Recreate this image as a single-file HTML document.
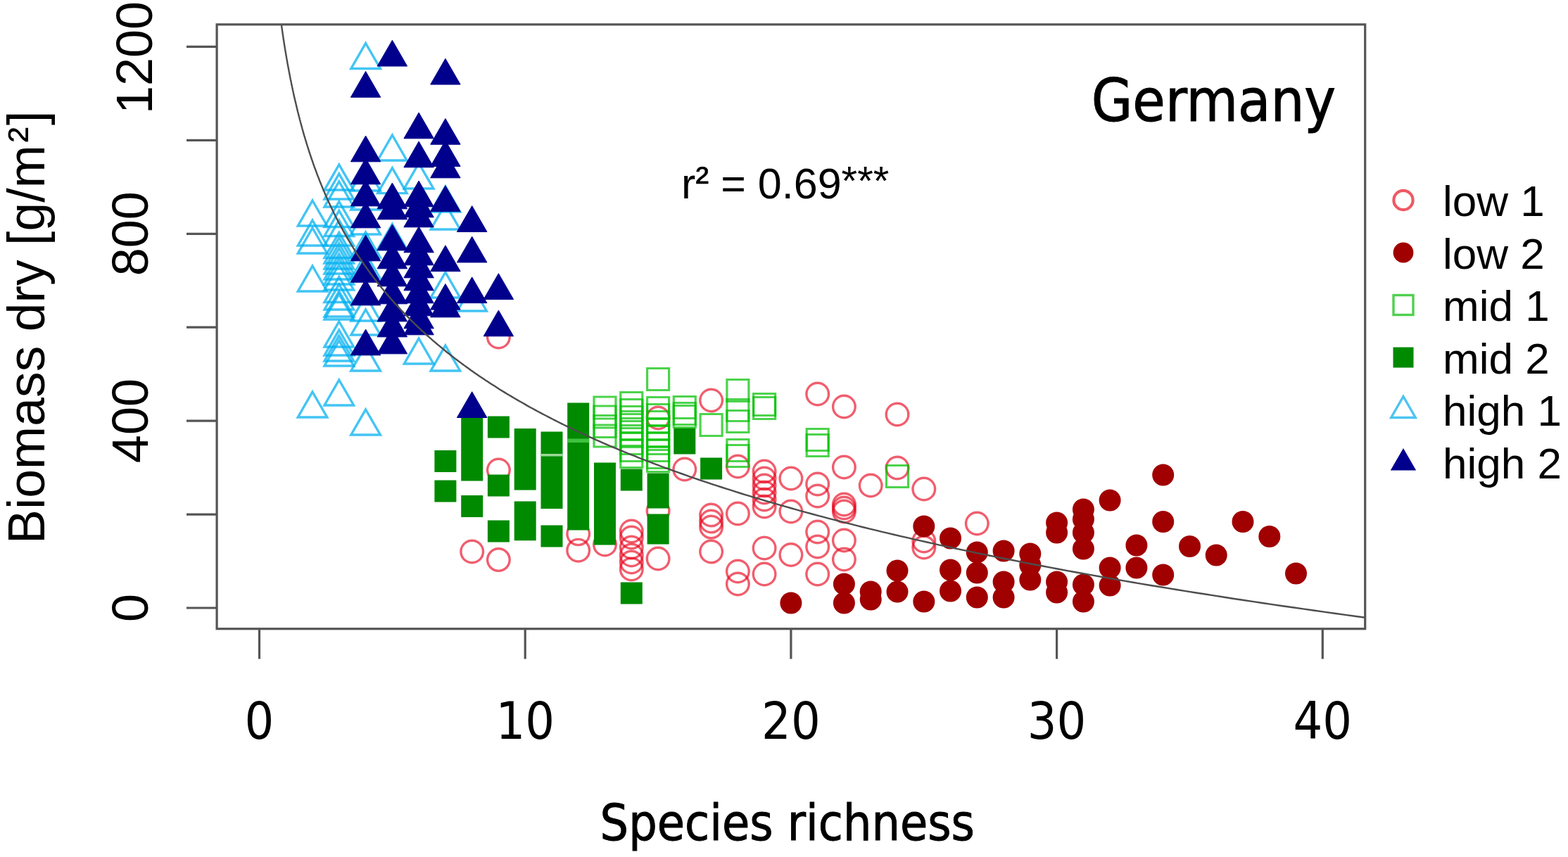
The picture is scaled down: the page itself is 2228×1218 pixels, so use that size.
<!DOCTYPE html><html><head><meta charset="utf-8"><style>html,body{margin:0;padding:0;background:#fff;}svg{display:block}text{font-family:"Liberation Sans",Arial,sans-serif;fill:#000}</style></head><body>
<svg width="2228" height="1218" viewBox="0 0 2228 1218">
<rect width="2228" height="1218" fill="#fff"/>
<defs><clipPath id="pc"><rect x="308" y="35" width="1632" height="859"/></clipPath></defs>
<g clip-path="url(#pc)"><g fill="none" stroke="#e8001a" stroke-opacity="0.63" stroke-width="3.4"><circle cx="670.7" cy="784" r="15.8"/><circle cx="708.4" cy="479" r="15.8"/><circle cx="708.4" cy="668" r="15.8"/><circle cx="708.4" cy="795.6" r="15.8"/><circle cx="821.7" cy="758.8" r="15.8"/><circle cx="821.7" cy="782.2" r="15.8"/><circle cx="859.5" cy="774" r="15.8"/><circle cx="897.3" cy="755" r="15.8"/><circle cx="897.3" cy="764" r="15.8"/><circle cx="897.3" cy="778" r="15.8"/><circle cx="897.3" cy="789" r="15.8"/><circle cx="897.3" cy="799" r="15.8"/><circle cx="897.3" cy="809" r="15.8"/><circle cx="935.1" cy="594" r="15.8"/><circle cx="935.1" cy="726" r="15.8"/><circle cx="935.1" cy="794" r="15.8"/><circle cx="972.8" cy="667" r="15.8"/><circle cx="1010.6" cy="569" r="15.8"/><circle cx="1010.6" cy="732" r="15.8"/><circle cx="1010.6" cy="741" r="15.8"/><circle cx="1010.6" cy="749" r="15.8"/><circle cx="1010.6" cy="784" r="15.8"/><circle cx="1048.4" cy="663" r="15.8"/><circle cx="1048.4" cy="730" r="15.8"/><circle cx="1048.4" cy="812" r="15.8"/><circle cx="1048.4" cy="830" r="15.8"/><circle cx="1086.1" cy="670" r="15.8"/><circle cx="1086.1" cy="680" r="15.8"/><circle cx="1086.1" cy="690" r="15.8"/><circle cx="1086.1" cy="700" r="15.8"/><circle cx="1086.1" cy="710" r="15.8"/><circle cx="1086.1" cy="720" r="15.8"/><circle cx="1086.1" cy="779" r="15.8"/><circle cx="1086.1" cy="816" r="15.8"/><circle cx="1123.9" cy="680" r="15.8"/><circle cx="1123.9" cy="727" r="15.8"/><circle cx="1123.9" cy="788.5" r="15.8"/><circle cx="1161.7" cy="560" r="15.8"/><circle cx="1161.7" cy="688" r="15.8"/><circle cx="1161.7" cy="705" r="15.8"/><circle cx="1161.7" cy="756" r="15.8"/><circle cx="1161.7" cy="777" r="15.8"/><circle cx="1161.7" cy="816" r="15.8"/><circle cx="1199.4" cy="578" r="15.8"/><circle cx="1199.4" cy="664" r="15.8"/><circle cx="1199.4" cy="717" r="15.8"/><circle cx="1199.4" cy="722" r="15.8"/><circle cx="1199.4" cy="727" r="15.8"/><circle cx="1199.4" cy="768" r="15.8"/><circle cx="1199.4" cy="795" r="15.8"/><circle cx="1237.2" cy="690" r="15.8"/><circle cx="1275" cy="589" r="15.8"/><circle cx="1275" cy="665" r="15.8"/><circle cx="1312.8" cy="695" r="15.8"/><circle cx="1312.8" cy="769" r="15.8"/><circle cx="1312.8" cy="778" r="15.8"/><circle cx="1388.3" cy="744" r="15.8"/></g><path fill="#008a00" d="M617.4 640.1h31v31h-31ZM617.4 682.5h31v31h-31ZM655.2 592h31v31h-31ZM655.2 606.5h31v31h-31ZM655.2 621.5h31v31h-31ZM655.2 637.5h31v31h-31ZM655.2 652.5h31v31h-31ZM655.2 703.9h31v31h-31ZM692.9 591.5h31v31h-31ZM692.9 674.5h31v31h-31ZM692.9 739.5h31v31h-31ZM730.7 609h31v31h-31ZM730.7 624.5h31v31h-31ZM730.7 639.5h31v31h-31ZM730.7 652.5h31v31h-31ZM730.7 665.5h31v31h-31ZM730.7 712.5h31v31h-31ZM730.7 724.5h31v31h-31ZM730.7 737.2h31v31h-31ZM768.5 613.5h31v31h-31ZM768.5 629.5h31v31h-31ZM768.5 645.5h31v31h-31ZM768.5 660.5h31v31h-31ZM768.5 676.5h31v31h-31ZM768.5 692h31v31h-31ZM768.5 746.5h31v31h-31ZM806.2 572.5h31v31h-31ZM806.2 587.5h31v31h-31ZM806.2 602.5h31v31h-31ZM806.2 617.5h31v31h-31ZM806.2 632.5h31v31h-31ZM806.2 647.5h31v31h-31ZM806.2 662.5h31v31h-31ZM806.2 677.5h31v31h-31ZM806.2 692.5h31v31h-31ZM806.2 707.5h31v31h-31ZM806.2 722.5h31v31h-31ZM844 657.5h31v31h-31ZM844 672.5h31v31h-31ZM844 687.5h31v31h-31ZM844 702.5h31v31h-31ZM844 717.5h31v31h-31ZM844 732.5h31v31h-31ZM844 743.5h31v31h-31ZM881.8 666.5h31v31h-31ZM881.8 827.5h31v31h-31ZM919.6 672.5h31v31h-31ZM919.6 691.5h31v31h-31ZM919.6 730.5h31v31h-31ZM919.6 742.5h31v31h-31ZM957.3 608.5h31v31h-31ZM957.3 614.5h31v31h-31ZM995.1 650.5h31v31h-31Z"/><rect x="806.2" y="623.5" width="31" height="5.5" fill="#4fd04f" opacity="0.8"/><rect x="768.5" y="645" width="31" height="3.5" fill="#9ad89a"/><g fill="none" stroke="#00c000" stroke-opacity="0.7" stroke-width="3.2"><path d="M844 564h31v31h-31Z"/><path d="M844 577h31v31h-31Z"/><path d="M844 590.5h31v31h-31Z"/><path d="M844 604h31v31h-31Z"/><path d="M881.8 557.5h31v31h-31Z"/><path d="M881.8 567.5h31v31h-31Z"/><path d="M881.8 577.5h31v31h-31Z"/><path d="M881.8 584.5h31v31h-31Z"/><path d="M881.8 594.5h31v31h-31Z"/><path d="M881.8 604.5h31v31h-31Z"/><path d="M881.8 614.5h31v31h-31Z"/><path d="M881.8 624.5h31v31h-31Z"/><path d="M881.8 633.5h31v31h-31Z"/><path d="M919.6 523.5h31v31h-31Z"/><path d="M919.6 564.5h31v31h-31Z"/><path d="M919.6 574.5h31v31h-31Z"/><path d="M919.6 584.5h31v31h-31Z"/><path d="M919.6 594.5h31v31h-31Z"/><path d="M919.6 604.5h31v31h-31Z"/><path d="M919.6 614.5h31v31h-31Z"/><path d="M919.6 624.5h31v31h-31Z"/><path d="M919.6 634.5h31v31h-31Z"/><path d="M919.6 639.5h31v31h-31Z"/><path d="M957.3 563.5h31v31h-31Z"/><path d="M957.3 572.5h31v31h-31Z"/><path d="M957.3 576.5h31v31h-31Z"/><path d="M995.1 588.5h31v31h-31Z"/><path d="M1032.9 539.5h31v31h-31Z"/><path d="M1032.9 567.5h31v31h-31Z"/><path d="M1032.9 583.5h31v31h-31Z"/><path d="M1032.9 624.5h31v31h-31Z"/><path d="M1032.9 632.5h31v31h-31Z"/><path d="M1070.6 559.5h31v31h-31Z"/><path d="M1070.6 564.5h31v31h-31Z"/><path d="M1146.2 609.5h31v31h-31Z"/><path d="M1146.2 617.5h31v31h-31Z"/><path d="M1259.5 661.5h31v31h-31Z"/></g><g fill="none" stroke="#00b0f0" stroke-opacity="0.74" stroke-width="3.4"><path d="M444 285L464.8 321L423.3 321Z"/><path d="M444 313L464.8 349L423.3 349Z"/><path d="M444 324L464.8 360L423.3 360Z"/><path d="M444 378L464.8 414L423.3 414Z"/><path d="M444 557L464.8 593L423.3 593Z"/><path d="M481.8 234L502.6 270L461 270Z"/><path d="M481.8 247L502.6 283L461 283Z"/><path d="M481.8 258L502.6 294L461 294Z"/><path d="M481.8 286.5L502.6 322.5L461 322.5Z"/><path d="M481.8 299.5L502.6 335.5L461 335.5Z"/><path d="M481.8 313L502.6 349L461 349Z"/><path d="M481.8 330.5L502.6 366.5L461 366.5Z"/><path d="M481.8 338L502.6 374L461 374Z"/><path d="M481.8 346L502.6 382L461 382Z"/><path d="M481.8 353L502.6 389L461 389Z"/><path d="M481.8 361L502.6 397L461 397Z"/><path d="M481.8 368L502.6 404L461 404Z"/><path d="M481.8 376L502.6 412L461 412Z"/><path d="M481.8 393.5L502.6 429.5L461 429.5Z"/><path d="M481.8 404L502.6 440L461 440Z"/><path d="M481.8 414L502.6 450L461 450Z"/><path d="M481.8 418L502.6 454L461 454Z"/><path d="M481.8 457L502.6 493L461 493Z"/><path d="M481.8 469L502.6 505L461 505Z"/><path d="M481.8 477L502.6 513L461 513Z"/><path d="M481.8 484L502.6 520L461 520Z"/><path d="M481.8 540L502.6 576L461 576Z"/><path d="M519.6 61.5L540.4 97.5L498.8 97.5Z"/><path d="M519.6 235L540.4 271L498.8 271Z"/><path d="M519.6 262L540.4 298L498.8 298Z"/><path d="M519.6 297L540.4 333L498.8 333Z"/><path d="M519.6 330L540.4 366L498.8 366Z"/><path d="M519.6 360L540.4 396L498.8 396Z"/><path d="M519.6 420L540.4 456L498.8 456Z"/><path d="M519.6 440L540.4 476L498.8 476Z"/><path d="M519.6 491L540.4 527L498.8 527Z"/><path d="M519.6 582L540.4 618L498.8 618Z"/><path d="M557.4 192L578.1 228L536.6 228Z"/><path d="M557.4 238.6L578.1 274.6L536.6 274.6Z"/><path d="M557.4 318.5L578.1 354.5L536.6 354.5Z"/><path d="M595.1 232L615.9 268L574.3 268Z"/><path d="M595.1 481L615.9 517L574.3 517Z"/><path d="M632.9 265L653.7 301L612.1 301Z"/><path d="M632.9 290L653.7 326L612.1 326Z"/><path d="M632.9 387L653.7 423L612.1 423Z"/><path d="M632.9 491L653.7 527L612.1 527Z"/><path d="M670.7 406L691.4 442L649.9 442Z"/></g><path fill="#00008c" stroke="#00008c" stroke-width="1" d="M519.6 101.4L540.8 138.2L498.4 138.2ZM519.6 193L540.8 229.8L498.4 229.8ZM519.6 225L540.8 261.8L498.4 261.8ZM519.6 256L540.8 292.8L498.4 292.8ZM519.6 287L540.8 323.8L498.4 323.8ZM519.6 334L540.8 370.8L498.4 370.8ZM519.6 364.5L540.8 401.2L498.4 401.2ZM519.6 397L540.8 433.8L498.4 433.8ZM519.6 468L540.8 504.8L498.4 504.8ZM557.4 57.2L578.6 94L536.1 94ZM557.4 260L578.6 296.8L536.1 296.8ZM557.4 275L578.6 311.8L536.1 311.8ZM557.4 319L578.6 355.8L536.1 355.8ZM557.4 345L578.6 381.8L536.1 381.8ZM557.4 370L578.6 406.8L536.1 406.8ZM557.4 395L578.6 431.8L536.1 431.8ZM557.4 420L578.6 456.8L536.1 456.8ZM557.4 442L578.6 478.8L536.1 478.8ZM557.4 466L578.6 502.8L536.1 502.8ZM595.1 160L616.3 196.8L573.9 196.8ZM595.1 201L616.3 237.8L573.9 237.8ZM595.1 257L616.3 293.8L573.9 293.8ZM595.1 272L616.3 308.8L573.9 308.8ZM595.1 286L616.3 322.8L573.9 322.8ZM595.1 322L616.3 358.8L573.9 358.8ZM595.1 340L616.3 376.8L573.9 376.8ZM595.1 358L616.3 394.8L573.9 394.8ZM595.1 376L616.3 412.8L573.9 412.8ZM595.1 394L616.3 430.8L573.9 430.8ZM595.1 412L616.3 448.8L573.9 448.8ZM595.1 430L616.3 466.8L573.9 466.8ZM595.1 439L616.3 475.8L573.9 475.8ZM632.9 83.3L654.1 120L611.7 120ZM632.9 168.5L654.1 205.2L611.7 205.2ZM632.9 199.7L654.1 236.4L611.7 236.4ZM632.9 216L654.1 252.8L611.7 252.8ZM632.9 263.8L654.1 300.6L611.7 300.6ZM632.9 348.8L654.1 385.6L611.7 385.6ZM632.9 403.4L654.1 440.1L611.7 440.1ZM632.9 414L654.1 450.8L611.7 450.8ZM670.7 292.6L691.9 329.4L649.4 329.4ZM670.7 336.2L691.9 372.9L649.4 372.9ZM670.7 393.8L691.9 430.6L649.4 430.6ZM670.7 556.7L691.9 593.5L649.4 593.5ZM708.4 388.7L729.6 425.4L687.2 425.4ZM708.4 441L729.6 477.8L687.2 477.8Z"/><g fill="#a00000"><circle cx="1123.9" cy="857" r="15.5"/><circle cx="1199.4" cy="830" r="15.5"/><circle cx="1199.4" cy="857" r="15.5"/><circle cx="1237.2" cy="841" r="15.5"/><circle cx="1237.2" cy="852" r="15.5"/><circle cx="1275" cy="811" r="15.5"/><circle cx="1275" cy="841" r="15.5"/><circle cx="1312.8" cy="748" r="15.5"/><circle cx="1312.8" cy="855" r="15.5"/><circle cx="1350.5" cy="765" r="15.5"/><circle cx="1350.5" cy="810" r="15.5"/><circle cx="1350.5" cy="840" r="15.5"/><circle cx="1388.3" cy="785" r="15.5"/><circle cx="1388.3" cy="814" r="15.5"/><circle cx="1388.3" cy="849" r="15.5"/><circle cx="1426.1" cy="783" r="15.5"/><circle cx="1426.1" cy="827" r="15.5"/><circle cx="1426.1" cy="849" r="15.5"/><circle cx="1463.8" cy="787" r="15.5"/><circle cx="1463.8" cy="803" r="15.5"/><circle cx="1463.8" cy="824" r="15.5"/><circle cx="1501.6" cy="743" r="15.5"/><circle cx="1501.6" cy="757" r="15.5"/><circle cx="1501.6" cy="827" r="15.5"/><circle cx="1501.6" cy="842" r="15.5"/><circle cx="1539.4" cy="724" r="15.5"/><circle cx="1539.4" cy="738" r="15.5"/><circle cx="1539.4" cy="757" r="15.5"/><circle cx="1539.4" cy="780" r="15.5"/><circle cx="1539.4" cy="831" r="15.5"/><circle cx="1539.4" cy="855" r="15.5"/><circle cx="1577.1" cy="711" r="15.5"/><circle cx="1577.1" cy="807" r="15.5"/><circle cx="1577.1" cy="832" r="15.5"/><circle cx="1614.9" cy="775" r="15.5"/><circle cx="1614.9" cy="807" r="15.5"/><circle cx="1652.7" cy="675" r="15.5"/><circle cx="1652.7" cy="741.5" r="15.5"/><circle cx="1652.7" cy="817" r="15.5"/><circle cx="1690.5" cy="776.5" r="15.5"/><circle cx="1728.2" cy="789" r="15.5"/><circle cx="1766" cy="741.5" r="15.5"/><circle cx="1803.8" cy="762.5" r="15.5"/><circle cx="1841.5" cy="815" r="15.5"/></g>
<path fill="none" stroke="#4d4d4d" stroke-width="2.4" d="M398.3 24.1L398.6 26.2L398.9 28.4L399.2 30.5L399.5 32.6L399.8 34.7L400.1 36.8L400.4 38.9L400.7 41L401 43.1L401.3 45.2L401.6 47.3L401.9 49.4L402.2 51.5L402.5 53.7L402.8 55.8L403.2 57.9L403.5 60L403.8 62.1L404.2 64.2L404.5 66.3L404.8 68.4L405.2 70.5L405.5 72.6L405.9 74.7L406.2 76.8L406.6 79L407 81.1L407.3 83.2L407.7 85.3L408.1 87.4L408.4 89.5L408.8 91.6L409.2 93.7L409.6 95.8L410 97.9L410.4 100L410.8 102.1L411.2 104.3L411.6 106.4L412 108.5L412.4 110.6L412.8 112.7L413.3 114.8L413.7 116.9L414.1 119L414.6 121.1L415 123.2L415.5 125.3L415.9 127.5L416.4 129.6L416.8 131.7L417.3 133.8L417.7 135.9L418.2 138L418.7 140.1L419.2 142.2L419.7 144.3L420.2 146.4L420.7 148.5L421.2 150.6L421.7 152.8L422.2 154.9L422.7 157L423.2 159.1L423.8 161.2L424.3 163.3L424.8 165.4L425.4 167.5L425.9 169.6L426.5 171.7L427 173.8L427.6 175.9L428.2 178.1L428.8 180.2L429.3 182.3L429.9 184.4L430.5 186.5L431.1 188.6L431.7 190.7L432.3 192.8L433 194.9L433.6 197L434.2 199.1L434.9 201.2L435.5 203.4L436.2 205.5L436.8 207.6L437.5 209.7L438.2 211.8L438.8 213.9L439.5 216L440.2 218.1L440.9 220.2L441.6 222.3L442.3 224.4L443 226.5L443.8 228.7L444.5 230.8L445.2 232.9L446 235L446.7 237.1L447.5 239.2L448.3 241.3L449.1 243.4L449.8 245.5L450.6 247.6L451.4 249.7L452.3 251.9L453.1 254L453.9 256.1L454.7 258.2L455.6 260.3L456.4 262.4L457.3 264.5L458.2 266.6L459 268.7L459.9 270.8L460.8 272.9L461.7 275L462.6 277.2L463.6 279.3L464.5 281.4L465.4 283.5L466.4 285.6L467.3 287.7L468.3 289.8L469.3 291.9L470.3 294L471.3 296.1L472.3 298.2L473.3 300.3L474.3 302.5L475.4 304.6L476.4 306.7L477.5 308.8L478.6 310.9L479.6 313L480.7 315.1L481.8 317.2L482.9 319.3L484.1 321.4L485.2 323.5L486.4 325.6L487.5 327.8L488.7 329.9L489.9 332L491.1 334.1L492.3 336.2L493.5 338.3L494.7 340.4L496 342.5L497.2 344.6L498.5 346.7L499.8 348.8L501.1 350.9L502.4 353.1L503.7 355.2L505 357.3L506.4 359.4L507.7 361.5L509.1 363.6L510.5 365.7L511.9 367.8L513.3 369.9L514.7 372L516.2 374.1L517.6 376.3L519.1 378.4L520.6 380.5L522.1 382.6L523.6 384.7L525.1 386.8L526.7 388.9L528.3 391L529.8 393.1L531.4 395.2L533 397.3L534.7 399.4L536.3 401.6L538 403.7L539.6 405.8L541.3 407.9L543 410L544.8 412.1L546.5 414.2L548.3 416.3L550.1 418.4L551.9 420.5L553.7 422.6L555.5 424.7L557.4 426.9L559.2 429L561.1 431.1L563 433.2L564.9 435.3L566.9 437.4L568.9 439.5L570.8 441.6L572.8 443.7L574.9 445.8L576.9 447.9L579 450L581.1 452.2L583.2 454.3L585.3 456.4L587.5 458.5L589.6 460.6L591.8 462.7L594 464.8L596.3 466.9L598.5 469L600.8 471.1L603.1 473.2L605.4 475.3L607.8 477.5L610.2 479.6L612.6 481.7L615 483.8L617.4 485.9L619.9 488L622.4 490.1L624.9 492.2L627.5 494.3L630 496.4L632.6 498.5L635.2 500.7L637.9 502.8L640.6 504.9L643.3 507L646 509.1L648.8 511.2L651.5 513.3L654.4 515.4L657.2 517.5L660.1 519.6L663 521.7L665.9 523.8L668.8 526L671.8 528.1L674.8 530.2L677.9 532.3L681 534.4L684.1 536.5L687.2 538.6L690.4 540.7L693.6 542.8L696.8 544.9L700.1 547L703.4 549.1L706.7 551.3L710 553.4L713.4 555.5L716.9 557.6L720.3 559.7L723.8 561.8L727.4 563.9L730.9 566L734.6 568.1L738.2 570.2L741.9 572.3L745.6 574.4L749.3 576.6L753.1 578.7L757 580.8L760.8 582.9L764.7 585L768.7 587.1L772.7 589.2L776.7 591.3L780.7 593.4L784.8 595.5L789 597.6L793.2 599.7L797.4 601.9L801.7 604L806 606.1L810.3 608.2L814.7 610.3L819.2 612.4L823.7 614.5L828.2 616.6L832.8 618.7L837.4 620.8L842.1 622.9L846.8 625.1L851.6 627.2L856.4 629.3L861.2 631.4L866.1 633.5L871.1 635.6L876.1 637.7L881.2 639.8L886.3 641.9L891.4 644L896.6 646.1L901.9 648.2L907.2 650.4L912.6 652.5L918 654.6L923.5 656.7L929 658.8L934.6 660.9L940.2 663L945.9 665.1L951.7 667.2L957.5 669.3L963.4 671.4L969.3 673.5L975.3 675.7L981.3 677.8L987.4 679.9L993.6 682L999.9 684.1L1006.1 686.2L1012.5 688.3L1018.9 690.4L1025.4 692.5L1032 694.6L1038.6 696.7L1045.3 698.8L1052 701L1058.8 703.1L1065.7 705.2L1072.7 707.3L1079.7 709.4L1086.8 711.5L1093.9 713.6L1101.2 715.7L1108.5 717.8L1115.9 719.9L1123.3 722L1130.8 724.1L1138.5 726.3L1146.1 728.4L1153.9 730.5L1161.7 732.6L1169.6 734.7L1177.6 736.8L1185.7 738.9L1193.9 741L1202.1 743.1L1210.4 745.2L1218.8 747.3L1227.3 749.5L1235.9 751.6L1244.5 753.7L1253.3 755.8L1262.1 757.9L1271 760L1280 762.1L1289.1 764.2L1298.3 766.3L1307.6 768.4L1316.9 770.5L1326.4 772.6L1336 774.8L1345.6 776.9L1355.4 779L1365.2 781.1L1375.2 783.2L1385.2 785.3L1395.4 787.4L1405.6 789.5L1416 791.6L1426.4 793.7L1437 795.8L1447.7 797.9L1458.4 800.1L1469.3 802.2L1480.3 804.3L1491.4 806.4L1502.6 808.5L1513.9 810.6L1525.4 812.7L1536.9 814.8L1548.6 816.9L1560.4 819L1572.3 821.1L1584.3 823.2L1596.4 825.4L1608.7 827.5L1621.1 829.6L1633.6 831.7L1646.2 833.8L1659 835.9L1671.8 838L1684.9 840.1L1698 842.2L1711.3 844.3L1724.7 846.4L1738.2 848.5L1751.9 850.7L1765.7 852.8L1779.7 854.9L1793.8 857L1808 859.1L1822.4 861.2L1836.9 863.3L1851.6 865.4L1866.4 867.5L1881.3 869.6L1896.4 871.7L1911.7 873.9L1927.1 876L1942.7 878.1L1958.4 880.2L1974.3 882.3"/>
</g>
<rect x="308.1" y="34.8" width="1631.6" height="858.9" fill="none" stroke="#555555" stroke-width="3.2"/>
<path stroke="#555555" stroke-width="3.2" d="M265 864H308M265 731.1H308M265 598.1H308M265 465.2H308M265 332.3H308M265 199.3H308M265 66.4H308"/>
<path stroke="#555555" stroke-width="3.2" d="M368.5 894V936.5M746.2 894V936.5M1123.9 894V936.5M1501.6 894V936.5M1879.3 894V936.5"/>
<text transform="translate(209.5 864) rotate(-90)" text-anchor="middle" font-size="72">0</text><text transform="translate(209.5 598.1) rotate(-90)" text-anchor="middle" font-size="72">400</text><text transform="translate(209.5 332.3) rotate(-90)" text-anchor="middle" font-size="72">800</text><text transform="translate(216.4 82) rotate(-90)" text-anchor="middle" font-size="72">1200</text>
<text x="368.5" y="1049.5" text-anchor="middle" font-size="73" font-stretch="condensed" style="font-family:'DejaVu Sans',sans-serif">0</text>
<text x="746.2" y="1049.5" text-anchor="middle" font-size="73" font-stretch="condensed" style="font-family:'DejaVu Sans',sans-serif">10</text>
<text x="1123.9" y="1049.5" text-anchor="middle" font-size="73" font-stretch="condensed" style="font-family:'DejaVu Sans',sans-serif">20</text>
<text x="1501.6" y="1049.5" text-anchor="middle" font-size="73" font-stretch="condensed" style="font-family:'DejaVu Sans',sans-serif">30</text>
<text x="1879.3" y="1049.5" text-anchor="middle" font-size="73" font-stretch="condensed" style="font-family:'DejaVu Sans',sans-serif">40</text>
<text x="1118.7" y="1194" text-anchor="middle" font-size="71" font-stretch="condensed" stroke="#000" stroke-width="0.9" style="font-family:'DejaVu Sans',sans-serif">Species richness</text>
<text transform="translate(63.2 773) rotate(-90) scale(0.985 1)" font-size="74.5">Biomass dry [g/m<tspan font-size="68" dy="-4" dx="3.5">²</tspan><tspan dy="4" dx="2.5">]</tspan></text>
<text x="1898" y="171.9" text-anchor="end" font-size="84" font-stretch="condensed" stroke="#000" stroke-width="1" style="font-family:'DejaVu Sans',sans-serif">Germany</text>
<text x="968" y="281.8" font-size="61">r<tspan font-size="57" dy="-5" stroke="#000" stroke-width="0.6">²</tspan><tspan dy="5"> = 0.69</tspan><tspan font-size="58" dy="-5">***</tspan></text>
<circle cx="1994" cy="284.5" r="13.6" fill="none" stroke="#ee5a64" stroke-width="4.2"/><circle cx="1994" cy="359.0" r="14.4" fill="#a00000"/><rect x="1980" y="419.5" width="28" height="28" fill="none" stroke="#4fd04f" stroke-width="3.4"/><rect x="1979.5" y="493.5" width="29" height="29" fill="#008a00"/><path d="M1994 563.5L2011.3 593.5L1976.7 593.5Z" fill="none" stroke="#4cc4f0" stroke-width="3.4"/><path d="M1994 637L2012.2 668.5L1975.8 668.5Z" fill="#00008c"/><text x="2050" y="307.3" font-size="62">low 1</text><text x="2050" y="381.8" font-size="62">low 2</text><text x="2050" y="456.3" font-size="62">mid 1</text><text x="2050" y="530.8" font-size="62">mid 2</text><text x="2050" y="605.3" font-size="62">high 1</text><text x="2050" y="679.8" font-size="62">high 2</text>
</svg></body></html>
